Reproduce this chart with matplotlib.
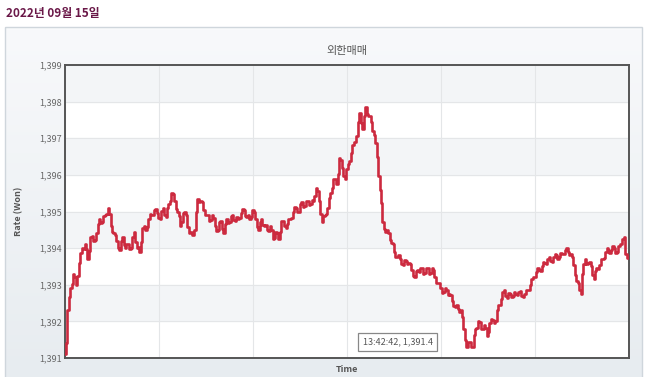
import matplotlib
matplotlib.use('Agg')

import numpy as np
import matplotlib.pyplot as plt
from matplotlib.patches import Rectangle
from matplotlib.colors import LinearSegmentedColormap

# =====================
# DATOS
# =====================

# minutos desde las 09:00 (minutos pares)
minutes_even = np.arange(0, 391, 2)

rate_even = [
    1391.1, 1392.3, 1392.9, 1393.3, 1393.0, 1393.6, 1394.0, 1394.1, 1393.7, 1394.3,
    1394.2, 1394.4, 1394.8, 1394.7, 1394.9, 1395.1, 1394.6, 1394.4, 1394.2, 1393.95,
    1394.3, 1394.0, 1394.1, 1394.0, 1394.45, 1394.0, 1393.9, 1394.55, 1394.5, 1394.8,
    1394.9, 1395.05, 1394.95, 1394.8, 1395.1, 1394.85, 1395.2, 1395.5, 1395.3, 1395.0,
    1394.6, 1394.95, 1394.9, 1394.4, 1394.35, 1394.5, 1395.35, 1395.3, 1395.05, 1394.9,
    1394.75, 1394.9, 1394.6, 1394.5, 1394.75, 1394.4, 1394.8, 1394.7, 1394.9, 1394.75,
    1394.8, 1394.95, 1395.05, 1394.85, 1394.8, 1395.05, 1394.8, 1394.5, 1394.8, 1394.6,
    1394.5, 1394.6, 1394.25, 1394.45, 1394.25, 1394.75, 1394.6, 1394.65, 1394.8, 1395.0,
    1395.1, 1395.0, 1395.25, 1395.15, 1395.3, 1395.2, 1395.3, 1395.65, 1395.3, 1394.7,
    1394.9, 1395.1, 1395.5, 1395.9, 1395.75, 1396.45, 1396.2, 1395.9, 1396.3, 1396.6,
    1396.9, 1397.05, 1397.7, 1397.25, 1397.85, 1397.6, 1397.45, 1397.1, 1396.5, 1395.6,
    1394.7, 1394.45, 1394.4, 1394.15, 1393.9, 1393.75, 1393.7, 1393.55, 1393.65, 1393.6,
    1393.4, 1393.2, 1393.4, 1393.45, 1393.3, 1393.45, 1393.3, 1393.45, 1393.2, 1393.05,
    1392.9, 1392.8, 1392.85, 1392.75, 1392.55, 1392.4, 1392.35, 1392.3, 1391.8, 1391.3,
    1391.45, 1391.3, 1391.8, 1392.0, 1391.8, 1391.9, 1391.6, 1391.95, 1392.05, 1392.0,
    1392.45, 1392.6, 1392.85, 1392.65, 1392.75, 1392.7, 1392.75, 1392.8, 1392.7, 1392.75,
    1392.85, 1393.0, 1393.2, 1393.35, 1393.4, 1393.5, 1393.6, 1393.7, 1393.65, 1393.75,
    1393.8, 1393.75, 1393.85, 1393.95, 1393.9, 1393.85, 1393.55, 1393.1, 1392.85, 1393.3,
    1393.7, 1393.6, 1393.5, 1393.15, 1393.45, 1393.55, 1393.7, 1393.9, 1393.95, 1393.95,
    1394.0, 1393.9, 1394.1, 1394.25, 1393.85, 1393.75,
]

# minutos impares (oscilación fina entre muestras)
minutes_odd = np.arange(1, 390, 2)

rate_odd = [
    1391.4, 1392.67, 1393.03, 1393.22, 1393.23, 1393.87, 1393.98, 1393.97, 1393.93, 1394.32,
    1394.23, 1394.67, 1394.68, 1394.87, 1394.93, 1394.92, 1394.43, 1394.37, 1394.01, 1394.2,
    1394.08, 1394.12, 1393.98, 1394.3, 1394.16, 1394.02, 1394.16, 1394.6, 1394.58, 1394.92,
    1394.91, 1395.07, 1394.81, 1395.02, 1394.91, 1395.1, 1395.28, 1395.47, 1395.08, 1394.87,
    1394.71, 1395.0, 1394.58, 1394.45, 1394.36, 1395.0, 1395.26, 1395.25, 1394.91, 1394.9,
    1394.76, 1394.82, 1394.48, 1394.7, 1394.51, 1394.67, 1394.68, 1394.87, 1394.76, 1394.85,
    1394.81, 1395.07, 1394.88, 1394.9, 1394.86, 1395.0, 1394.58, 1394.72, 1394.63, 1394.62,
    1394.48, 1394.5, 1394.28, 1394.42, 1394.43, 1394.75, 1394.56, 1394.8, 1394.83, 1395.12,
    1394.98, 1395.2, 1395.13, 1395.3, 1395.18, 1395.32, 1395.41, 1395.55, 1394.93, 1394.87,
    1394.93, 1395.37, 1395.63, 1395.9, 1396.03, 1396.4, 1395.98, 1396.17, 1396.38, 1396.82,
    1396.91, 1397.45, 1397.41, 1397.62, 1397.66, 1397.6, 1397.21, 1396.87, 1395.98, 1395.22,
    1394.51, 1394.5, 1394.21, 1394.1, 1393.76, 1393.8, 1393.56, 1393.67, 1393.56, 1393.57,
    1393.23, 1393.37, 1393.36, 1393.45, 1393.31, 1393.45, 1393.31, 1393.4, 1393.06, 1393.05,
    1392.78, 1392.9, 1392.73, 1392.72, 1392.41, 1392.45, 1392.26, 1392.12, 1391.48, 1391.45,
    1391.31, 1391.62, 1391.83, 1391.97, 1391.78, 1391.82, 1391.71, 1392.07, 1391.96, 1392.3,
    1392.46, 1392.8, 1392.68, 1392.77, 1392.66, 1392.8, 1392.71, 1392.82, 1392.66, 1392.87,
    1392.86, 1393.17, 1393.21, 1393.45, 1393.38, 1393.62, 1393.58, 1393.75, 1393.63, 1393.85,
    1393.71, 1393.87, 1393.83, 1394.0, 1393.81, 1393.77, 1393.26, 1393.05, 1392.75, 1393.57,
    1393.58, 1393.62, 1393.26, 1393.37, 1393.43, 1393.7, 1393.73, 1394.0, 1393.88, 1394.05,
    1393.88, 1394.07, 1394.11, 1394.3, 1393.73,
]

y_ticks = [1391, 1392, 1393, 1394, 1395, 1396, 1397, 1398, 1399]
y_labels = ["1,391", "1,392", "1,393", "1,394", "1,395", "1,396", "1,397", "1,398", "1,399"]

tooltip = "13:42:42, 1,391.4"

# unir las dos series en orden temporal
minutes = np.concatenate([minutes_even, minutes_odd])
rate = np.concatenate([rate_even, rate_odd])
order = np.argsort(minutes)
minutes = minutes[order]
rate = rate[order]

# =====================
# FIGURA
# =====================

plt.rcParams['font.family'] = ['Noto Sans CJK KR', 'DejaVu Sans']

fig = plt.figure(figsize=(6.47, 3.77), dpi=100)
fig.patch.set_facecolor('white')

# panel de fondo con degradado (ejes auxiliares detrás del gráfico)
bg = fig.add_axes([0, 0, 1, 1], zorder=-1)
bg.set_axis_off()
grad = LinearSegmentedColormap.from_list('panel', ['#f8f9fb', '#e7ecf0'])
bg.imshow(np.linspace(0, 1, 100).reshape(-1, 1), cmap=grad, aspect='auto',
          extent=(5, 642, 377, 27), zorder=0)
bg.add_patch(Rectangle((5, 27), 637, 360, facecolor='none',
                       edgecolor='#cfd6dc', linewidth=1, zorder=1))
bg.set_xlim(0, 647)
bg.set_ylim(377, 0)

fig.text(6 / 647, 1 - 13 / 377, "2022년 09월 15일", color='#6a1848',
         fontsize=8.5, fontweight='bold', va='center', ha='left')

ax = fig.add_axes([65 / 647, 1 - 358 / 377, 564 / 647, 293 / 377])
ax.set_facecolor('white')

# bandas alternas
for i, lo in enumerate(y_ticks[:-1]):
    if i % 2 == 1:
        ax.axhspan(lo, lo + 1, color='#f3f5f7', zorder=0)

ax.plot(minutes, rate, color='#cc2a3f', linewidth=1.9, drawstyle='steps-mid', zorder=3)

ax.set_xlim(0, 390)
ax.set_ylim(1391, 1399)
ax.set_xticks(np.linspace(0, 390, 7))
ax.set_xticklabels([])
ax.set_yticks(y_ticks)
ax.set_yticklabels(y_labels, fontsize=6.5, color='#666666')
ax.tick_params(axis='both', length=0, pad=2)
ax.grid(True, color='#e4e6e8', linewidth=0.8, zorder=1)
ax.set_axisbelow(True)

for s in ax.spines.values():
    s.set_color('#555555')
    s.set_linewidth(1.4)

ax.set_title("외한매매", fontsize=8, color='#555555', pad=8)
ax.set_xlabel("Time", fontsize=6.5, fontweight='bold', color='#555555', labelpad=3)
ax.set_ylabel("Rate (Won)", fontsize=6.5, fontweight='bold', color='#555555', labelpad=12)

ax.text(0.59, 0.055, tooltip, transform=ax.transAxes, ha='center', va='center',
        fontsize=6.5, color='#555555', zorder=5,
        bbox=dict(boxstyle='square,pad=0.5', facecolor='white', edgecolor='#888888', linewidth=0.9))

fig.savefig('out.png', dpi=100)
